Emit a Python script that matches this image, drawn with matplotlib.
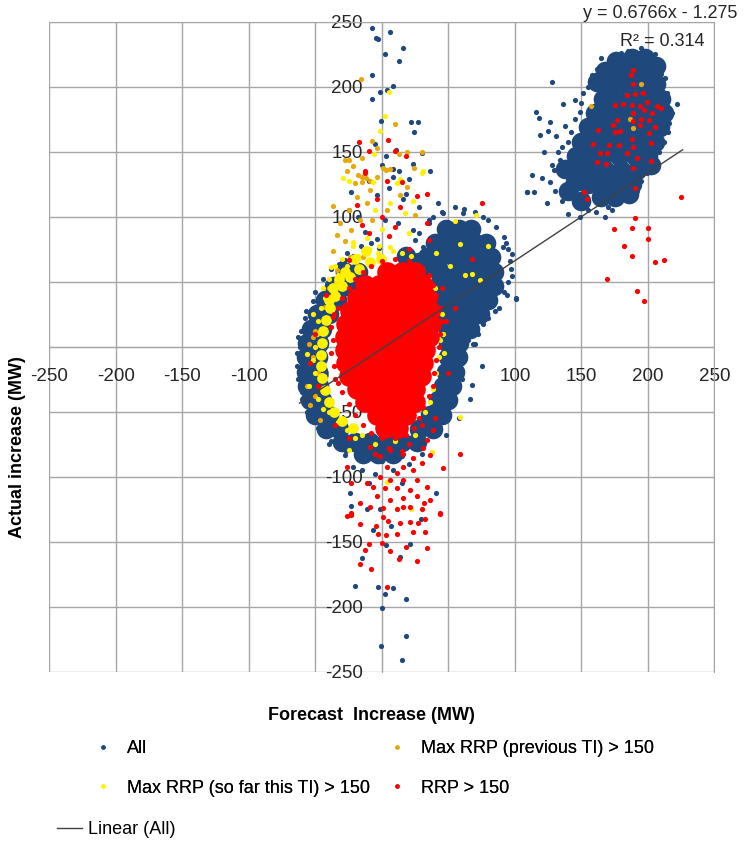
import matplotlib

matplotlib.use("Agg")
import matplotlib.pyplot as plt
from matplotlib.lines import Line2D

plt.rcParams["font.family"] = ["Liberation Sans", "DejaVu Sans"]

# Series colours
BLUE = "#1F497D"
ORANGE = "#E8A80C"
YELLOW = "#FFF200"
RED = "#FF0000"
GRID = "#A6A6A6"

# Trend line (Linear (All))
trend_slope = 0.6766
trend_intercept = -1.275
trend_x = [-62, 226]

# "All" - scattered points
all_x = [
    -7.7, 6, -4.5, -3.2, 16, 2.5, 13, -7.3, 8.5, 4, -1.5, -7.3, -0.8, 22, 27,
    24, -5, 10.8, 2.8, 23, 13, 8.5, 36, 20.5, 30,
    -23, 8.5, -4, 16, 2.3, -13, 23.5, -41.6, -28, -4, 31, 42, 46, 61, 109,
    101, 91, -18, 5, 28, -10, 12, 35, -25, 0, 18,
    25, 38, 55, 70, 80, 95, 97, 95, 88, 80, 72, 70, 68.7, 60, 67.4, 98, 98,
    91.7, 100.5, 92, 75, 66, 58, 48,
    -60.4, -64, -63, -58, -52, -31.6, -34, -28, -21.6, -24, 41, -45, -55,
    -60, -15, -5, 8, 20, 30, -10, 15, -40,
    -23, -11.5, -1.5, 29, -7, 6.5, 3, 21, 13.5, -15, -20, -3.3, 8.5, 2.3, 18,
    0, 18, -0.8, 15,
    127.6, 116, 118, 126, 119, 125, 136, 131, 112.6, 109, 114, 124, 126, 120,
    129, 140, 149, 161, 172.7, 179, 199, 222, 212.8, 206.5, 171.4, 157.7, 161,
    151.4, 149, 135, 134, 166.4, 146,
    140, 138, 142, 145, 165, 180, 195, 205, 214, 216, 212, 205, 195, 185, 155,
    150, 143, 130, 135,
    140, 145, 150, 160, 170, 185, 192, 200, 208, 215, 218, 215, 210, 200, 185,
    175, 162, 155, 150, 145, 140, 132, 128, 122, 138, 142, 155, 168,
    28, 35, 45, 62, 76, 86, 93, 96, 94, 85, 76, 65, 62, 60, 55, 50, 40, 28, 15,
    0, -15, -27, -38, -48, -56, -60, -63, -64, -62, -61, -57, -50, -44, -38,
    -30,
    -22, -12, -32, -16, -2, -26, -8,
]
all_y = [
    245.6, 242.5, 238, 237, 230, 225, 220, 209, 201, 198, 196, 191, 173.6, 173,
    173, 165.6, 156, 151.8, 147, 141, 135.6, 137, 135, 129, 149.5,
    119.5, 131, 117, 114, 97.7, 88.7, 90, 38.7, 67, 82.8, 77, 110.5, 103, 103,
    119.5, 37.5, 77, 100, 122, 108, 128, 95, 95, 105, 140, 118,
    82, 100, 108, 104, 98, 75, 60, 50, 30, 22, 10, 2, 2.3, -3.6, -29, 71.5,
    54.6, 42.5, 36.7, 84.8, -15, -40, -55, -68,
    -13.8, -5, 8, 22, 35, -71.5, -76.7, -83, -92, -112.6, -112.6, -65, -50,
    -35, -95, -98, -95, -90, -82, -105, -105, -75,
    -122, -125, -125, -132.6, -141, -137.7, -152, -151.8, -161.3, -162.6,
    -183.6, -185, -185.7, -190, -194, -200.5, -222, -229.8, -241,
    204, 180.5, 176, 173, 163, 166, 187, 162, 132, 119.5, 119.5, 110.5, 127,
    129.7, 136, 102, 100, 104, 105, 112, 133.6, 187, 206.7, 215.6, 218, 209,
    208, 195, 181, 154, 144, 113, 114.4,
    125, 135, 165, 190, 222, 226, 230, 225, 195, 172, 158, 148, 128, 122, 120,
    140, 150, 120, 112,
    140, 128, 122, 115, 108, 115, 120, 140, 150, 165, 180, 190, 210, 222, 228,
    225, 214, 200, 188, 175, 158, 150, 140, 150, 170, 118, 105, 100,
    88, 98, 104, 106, 100, 92, 80, 66, 40, 28, 18, 5, -10, -25, -40, -52, -62,
    -75, -84, -88, -86, -80, -72, -62, -50, -40, -25, -15, 0, 12, 28, 42, 52,
    60, 65,
    70, 74, 64, 78, 76, 72, 80,
]

# "All" - dense cloud centres (main blob, middle cluster, right cluster)
all_dense_x = [
    -14, -3, 8,
    -30, -20, -9, 3, 15, 26,
    -42, -32, 28, 38,
    -50, -40, 36, 45,
    -54, -45, 42, 50,
    -56, -47, 46, 53,
    -57, -48, 48, 55,
    -57, -48, 50, 57,
    -56, -47, 50, 58,
    -53, -45, 50, 58, 66,
    -49, -40, 46, 56, 66, 74,
    -43, -34, 40, 50, 60, 70, 80,
    -36, -26, 36, 46, 56, 66, 76, 84,
    -28, -18, 34, 44, 54, 64, 74, 84,
    34, 44, 54, 64, 74, 82,
    40, 50, 60, 70, 78,
    48, 58, 67,
    18, 28,
    165, 175, 140, 150, 186,
    145, 155, 165, 177, 188,
    138, 148, 158, 168, 180, 192, 202,
    146, 156, 166, 178, 190, 200,
    150, 160, 170, 182, 194, 205,
    155, 165, 175, 187, 199, 209,
    160, 170, 182, 194, 206, 212,
    166, 176, 188, 200, 210,
    162, 172, 184, 196, 206,
    168, 180, 192, 202,
    176, 188, 198, 206,
]
all_dense_y = [
    -82, -82, -82,
    -73, -73, -73, -73, -73, -73,
    -63, -63, -63, -63,
    -52, -52, -52, -52,
    -41, -41, -41, -41,
    -30, -30, -30, -30,
    -19, -19, -19, -19,
    -8, -8, -8, -8,
    3, 3, 3, 3,
    14, 14, 14, 14, 14,
    25, 25, 25, 25, 25, 25,
    36, 36, 36, 36, 36, 36, 36,
    47, 47, 47, 47, 47, 47, 47, 47,
    58, 58, 58, 58, 58, 58, 58, 58,
    69, 69, 69, 69, 69, 69,
    80, 80, 80, 80, 80,
    91, 91, 91,
    70, 65,
    115, 115, 120, 112, 118,
    127, 125, 125, 125, 125,
    137, 136, 136, 136, 136, 136, 140,
    147, 147, 147, 147, 147, 147,
    158, 158, 158, 158, 158, 158,
    169, 169, 169, 169, 169, 169,
    180, 180, 180, 180, 180, 180,
    191, 191, 191, 191, 191,
    204, 202, 202, 202, 202,
    212, 213, 213, 213,
    220, 222, 222, 216,
]

# "Max RRP (previous TI) > 150"
prev_x = [
    -16, 10, -7.5, -3.5, 18.5, 30, 12.5, -28, -25, -15, -22, 1, 3, 6, -26.5,
    -18, -12, -9, -15, 24,
    -37, -37, -28, -34, -23, -31.6, -25, -19, -20, -15, -9, -11.5, -4, -16.5,
    -7.7, 3.5, 13.5, 18.5, 25, -11, -14.5, -24, -34, -39.6, -43, -34.6,
    -52, -55, -50, -48, -54, -56, -50, -52, -46.6,
    157, 194.5, 186.5, 188.5,
]
prev_y = [
    206, 171.5, 158.5, 153, 150, 150, 148.5, 143.6, 143.6, 145.6, 139.5, 138,
    136, 137, 135.6, 132, 130, 128, 127, 137.7,
    108.5, 74, 81.5, 86, 90, 95, 105, 115.6, 126, 131, 121, 110.5, 131, 97.7,
    97.7, 105, 117, 123, 101.5, 73, 69, 69.5, 59, 45, 31, 50,
    -8, 2, 12, -20, -44.6, -30, -38, 8, -56,
    185, 202, 175, 168.7,
]

# "Max RRP (so far this TI) > 150"
sofar_x = [
    5.3, 2.3, -1.5, -6, -24.6, 30, 13.5, -29, -6.5, 6, -5, 17, 23.5, 11, 31,
    0, 20, -21.6, -11.5, 6, -3, -38, 55, 71, 41, 51, 58.6, 62.4, 68, 73.7, 80,
    58.6, 37.4, 3.5, -56.6, 22, -24.8,
    -20, -5, 10, 25, 38, 41, 43, 44, 42, 39,
    -50, -52, -50, -49, -48, -46, -43, -38, -33, -26, -18, -10, -2, 8, 15,
    -30, -35, -44, -40, -33, -26, -15, 36, 32, 47, 46, 45, 40, 35, 30, 22,
    -48, -44, -52, -55, -40, -22,
]
sofar_y = [
    196, 178, 166, 148.7, 128, 134, 129, 130, 127, 110.5, 105.4, 103, 112, 126,
    135, 91, 87.4, 81, 83.6, 77, 72, 61.8, 97, 101.5, 72, 62, 79, 55, 56, 51.5,
    77.7, -54, -80.5, -103.6, -5.4, -125, -79,
    -70, -75, -72, -68, -32, -20, -8, 5, 18, 32,
    -20, -10, 0, 10, 20, 30, 38, 46, 55, 62, 70, 75, 78, 74, 72,
    68, 62, 45, -50, -58, -64, -68, -42, -50, -5, 10, 25, 45, 52, 60, 70,
    -40, -48, 25, -30, 52, 78,
]

# "Max RRP (so far this TI) > 150" - dense band round the red core
sofar_dense_x = [
    -40, -43, -45, -46, -46, -45, -44, -42, -39, -35, -30, -24, -17, -9, -1,
    -36, -30, -22, -28, -20, -12, -32, -37, -40,
]
sofar_dense_y = [
    -42, -33, -24, -15, -6, 3, 12, 21, 30, 39, 47, 54, 60, 65, 68,
    -50, -57, -62, 58, 68, 74, 52, 45, 36,
]

# "RRP > 150"
rrp_x = [
    -17, 4.5, -10, 10, 18, -12.5, 3.5, 15, -19, -15, 13.5, 26, 34, 75, 34, 35,
    68, -4, -13, -25, -36.6, -10, 5, 20, 0, 10, -54,
    38.6, 33.6, 31, 36, 46, 58.6, 30, 23.5, 16, 11, 3.5, -1.5, 6, 16, 26, 33.6,
    21, 11, 2.3, -6.5, -11.5, -4, 6, 16, 26, 36, 43.6, 30, 21, 11, 1, -9,
    -16.5, -23, -26.5, -23, 6, -1.5, 16, -9, 23.5,
    -26.5, -23.5, -16.5, -4.5, 1, 4.7, 13.5, 21, 27.3, 32, 43.6, -2.7, 3, 11,
    23.5, 32, -10, 0, -13, 6, 18, 34, 12.8, 26.5, -16.5, -8.5, 3.5, 16, 31.6,
    -36, -38, -37, -38, -36, -35, -33, -30, -25, -20, -14, -8, 0, 10, 20, 28,
    35, 38, 41, 44, 45, 44, 43, 41, 39, 38, 35, 31, 28, 24, 18, 10, 0, -8,
    -14, -20, -25, -30, -33,
    -48, -50, 50, 48, -42, 45, 55, 40, 30, -35, -25, 5, 15, -5, 20,
    189, 187, 189, 184, 190, 196, 199, 175, 181, 188, 194, 207, 210, 197, 189,
    203, 177, 189, 195, 174, 194, 201, 205, 162.6, 175, 179, 201, 188, 202,
    159, 171, 178, 189, 164, 169.5, 184.5, 192, 202, 162, 168.4, 189, 152,
    154.4, 190, 224.6, 190, 174.7, 188, 200, 200, 182, 188, 205, 212, 169.4,
    192, 197,
]
rrp_y = [
    157.5, 159, 151, 151, 146.7, 135, 128, 127, 109, 94, 108, 116, 118, 111,
    95, 82, 67.4, 114, 133.5, 67, 23, 88, 85, 75, 100, 92, -12.5,
    -64, -71.5, -78, -83, -93, -82, -89.5, -94.6, -92, -97, -92, -99.7, -102,
    -102, -102, -107.5, -110, -108.7, -108.7, -107.5, -105, -115, -117.7,
    -116.5, -115, -117.7, -128, -125, -123, -125, -124, -123, -120, -129, -92,
    -105, -79, -84, -82, -76.7, -85.6,
    -130, -128, -136.4, -138, -130.5, -134, -135.6, -135, -135.6, -132, -128.5,
    -143.6, -144.6, -143.6, -142, -142, -151.5, -150.5, -156, -157, -154, -155,
    -163.3, -164.6, -167, -170.5, -185, -123, -120,
    25, 15, 5, -5, -15, -25, 30, 38, 45, 52, 58, 62, 66, 68, 66, 62,
    55, 48, 40, 30, 20, 10, 0, -10, -20, -30, -38, -46, -55, -62, -68, -70,
    -70, -66, -60, -52, -44, -35, -28,
    -30, 10, -20, 20, 40, 45, 30, -55, -60, -60, -70, -78, -80, -82, -75,
    213, 209, 202, 194, 194.6, 195, 188.7, 186, 186.7, 186, 185, 185, 183.6,
    182.3, 180, 180, 174.6, 173.8, 175, 171, 171, 174.6, 169.5, 167, 165.6,
    166.4, 164.6, 159.7, 156.7, 156, 155, 155, 153.6, 149.5, 149.5, 149.5,
    145.6, 143.3, 142, 141, 137.4, 119.5, 113.6, 122, 115, 99, 90.5, 91.8,
    91.3, 83, 77.7, 70, 65, 67, 52.3, 43.3, 35.4,
]

# "RRP > 150" - solid core of the main blob
rrp_dense_x = [
    4, 15, 25,
    -13, -2, 9, 20, 31,
    -19, -8, 3, 14, 25, 34,
    -24, -13, -2, 9, 20, 31, 36,
    -27, -16, -5, 6, 17, 28, 37,
    -28, -17, -6, 5, 16, 27, 35,
    -28, -17, -6, 5, 16, 27, 32,
    -27, -16, -5, 6, 17, 28, 31,
    -25, -14, -3, 8, 19, 29,
    -19, -8, 3, 14, 25,
    -13, -2, 9, 20, 25,
    -4, 7, 18,
    2, 12,
]
rrp_dense_y = [
    58, 58, 58,
    48, 48, 48, 48, 48,
    38, 38, 38, 38, 38, 38,
    28, 28, 28, 28, 28, 28, 28,
    18, 18, 18, 18, 18, 18, 18,
    8, 8, 8, 8, 8, 8, 8,
    -2, -2, -2, -2, -2, -2, -2,
    -12, -12, -12, -12, -12, -12, -12,
    -22, -22, -22, -22, -22, -22,
    -32, -32, -32, -32, -32,
    -42, -42, -42, -42, -42,
    -52, -52, -52,
    -62, -62,
]

tick_values = list(range(-250, 251, 50))


def main() -> None:
    """Draw the forecast vs actual increase scatter."""
    fig = plt.figure(figsize=(7.45, 8.41), dpi=100)
    ax = fig.add_axes([0.0664, 0.2010, 0.8926, 0.7729])

    dot = 14

    ax.scatter(all_dense_x, all_dense_y, s=200, color=BLUE, lw=0, zorder=3)
    ax.scatter(all_x, all_y, s=dot, color=BLUE, lw=0, zorder=3)
    ax.scatter(prev_x, prev_y, s=dot, color=ORANGE, lw=0, zorder=4)
    ax.scatter(sofar_dense_x, sofar_dense_y, s=60, color=YELLOW, lw=0,
               zorder=5)
    ax.scatter(sofar_x, sofar_y, s=dot, color=YELLOW, lw=0, zorder=5)
    ax.scatter(rrp_dense_x, rrp_dense_y, s=220, color=RED, lw=0, zorder=6)
    ax.scatter(rrp_x, rrp_y, s=dot, color=RED, lw=0, zorder=6)

    trend_y = [trend_slope * x + trend_intercept for x in trend_x]
    ax.plot(trend_x, trend_y, color="#404040", lw=1, zorder=7)

    ax.set_xlim(-250, 250)
    ax.set_ylim(-250, 250)
    ax.set_xticks(tick_values)
    ax.set_yticks(tick_values)
    ax.grid(True, color=GRID, lw=1, zorder=0)
    ax.set_axisbelow(True)
    for side in ["top", "right"]:
        ax.spines[side].set_color(GRID)
    ax.spines["left"].set_position(("data", 0))
    ax.spines["bottom"].set_position(("data", 0))
    ax.spines["left"].set_color(GRID)
    ax.spines["bottom"].set_color(GRID)
    ax.tick_params(axis="both", length=0, labelsize=13.5, colors="#262626")
    ax.tick_params(axis="y", pad=14)
    ax.tick_params(axis="x", pad=15)
    ax.set_yticklabels([str(v) for v in tick_values])
    ax.set_xticklabels([str(v) for v in tick_values])

    fig.text(371 / 745, 1 - 716 / 841, "Forecast  Increase (MW)",
             ha="center", va="center", fontsize=13, fontweight="bold")
    fig.text(18 / 745, 1 - 447 / 841, "Actual increase (MW)", rotation=90,
             ha="center", va="center", fontsize=13, fontweight="bold")
    fig.text(583 / 745, 1 - 14 / 841, "y = 0.6766x - 1.275", ha="left",
             va="center", fontsize=13, color="#262626")
    fig.text(705 / 745, 1 - 42 / 841, "R² = 0.314", ha="right",
             va="center", fontsize=13, color="#262626")

    def marker(color: str) -> Line2D:
        return Line2D([], [], ls="", marker="o", markersize=3.2,
                      markerfacecolor=color, markeredgewidth=0)

    handles = [marker(BLUE), marker(YELLOW), marker(ORANGE), marker(RED)]
    labels = [
        "All",
        "Max RRP (so far this TI) > 150",
        "Max RRP (previous TI) > 150",
        "RRP > 150",
    ]
    leg = fig.legend(handles, labels, ncol=2, loc="upper left",
                     bbox_to_anchor=(94 / 745, 1 - 740 / 841), frameon=False,
                     fontsize=13, handlelength=1.0, handletextpad=0.83,
                     columnspacing=1.0, labelspacing=1.25, borderpad=0,
                     borderaxespad=0)
    fig.add_artist(leg)
    fig.legend([Line2D([], [], color="#404040", lw=1)], ["Linear (All)"],
               loc="upper left", bbox_to_anchor=(57 / 745, 1 - 821 / 841),
               frameon=False, fontsize=13, handlelength=1.4,
               handletextpad=0.33, borderpad=0, borderaxespad=0)

    fig.savefig("out.png", dpi=100, facecolor="white")
    plt.close(fig)


if __name__ == "__main__":
    main()
